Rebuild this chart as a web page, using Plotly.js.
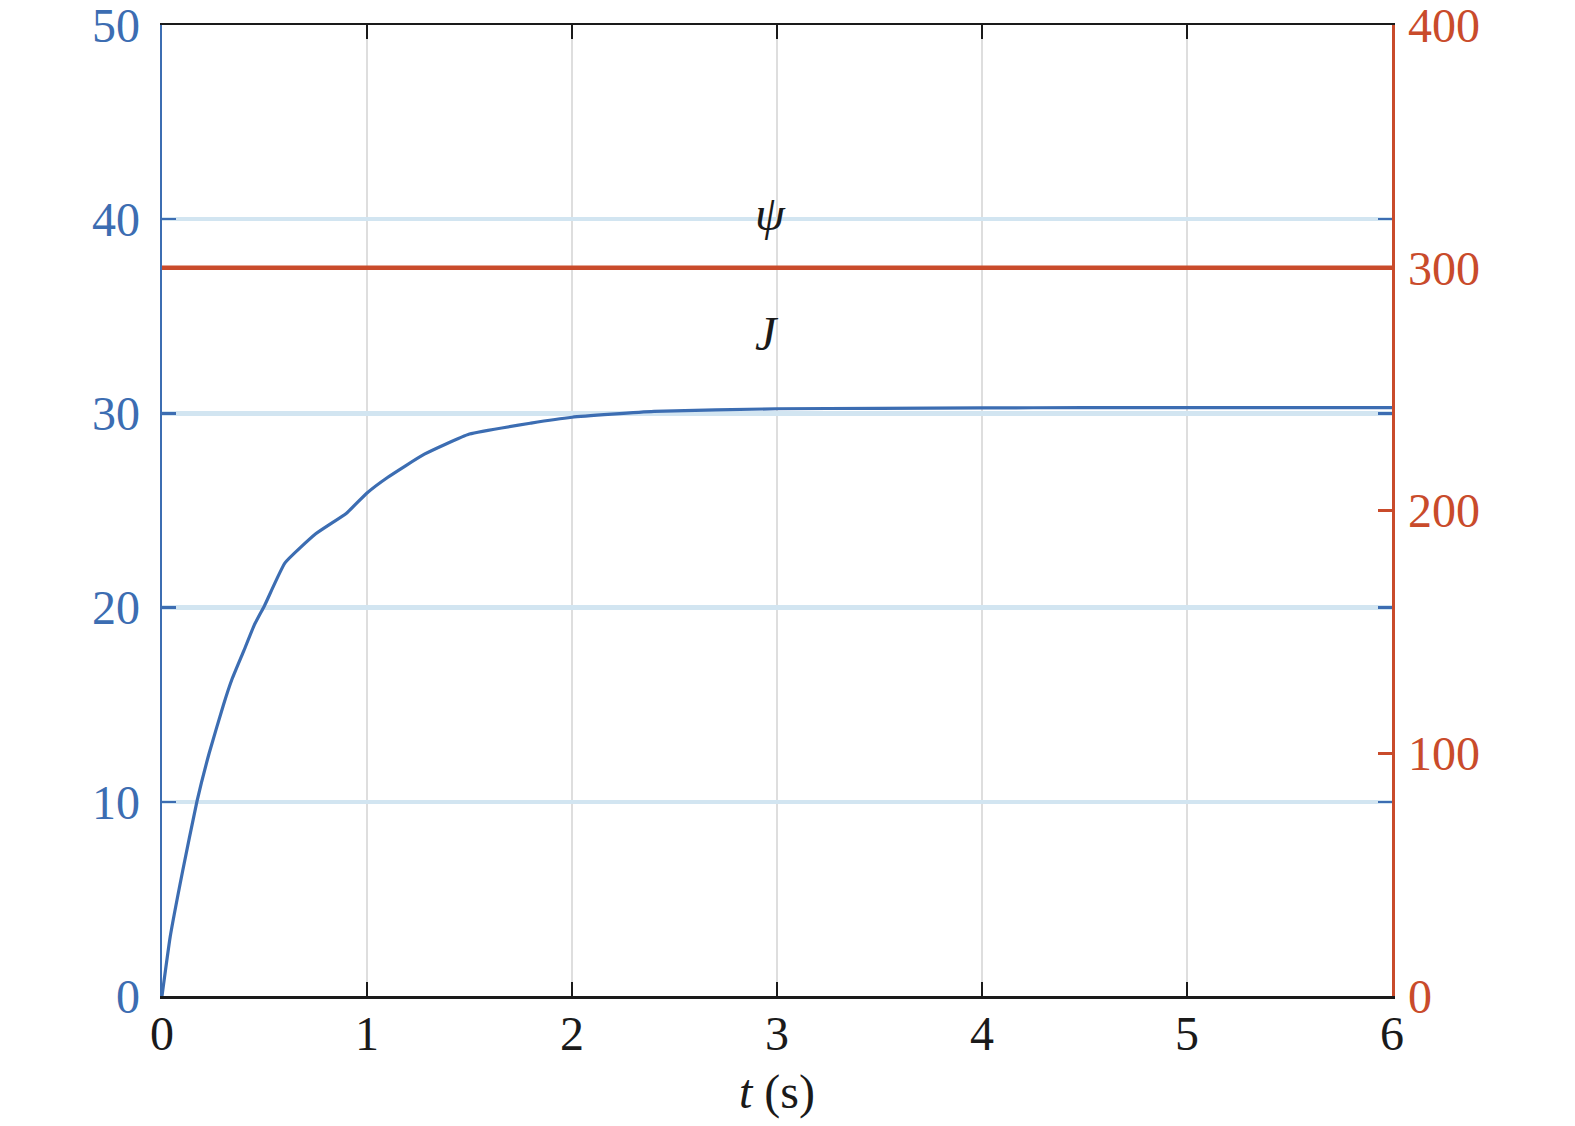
<!DOCTYPE html>
<html>
<head>
<meta charset="utf-8">
<script src="https://cdn.plot.ly/plotly-3.0.1.min.js"></script>
<style>
html,body{margin:0;padding:0;background:#fff;}
#chart{width:1575px;height:1126px;}
</style>
</head>
<body>
<div id="chart"></div>
<script>
// Time axis (s)
const tJ = [0, 0.04, 0.1, 0.17, 0.23, 0.3, 0.34, 0.4, 0.45, 0.5, 0.6, 0.75, 0.9, 1.0, 1.1, 1.28, 1.5, 1.8, 2.0, 2.4, 3.0, 3.5, 4.0, 4.5, 5.0, 5.5, 6.0];
// J values (left axis)
const valJ = [0, 3.05, 6.4, 10.0, 12.5, 15.0, 16.27, 17.8, 19.1, 20.1, 22.3, 23.8, 24.86, 25.9, 26.7, 27.9, 28.94, 29.5, 29.8, 30.1, 30.24, 30.26, 30.28, 30.3, 30.3, 30.3, 30.3];
// psi values (right axis)
const tPsi = [0, 6];
const valPsi = [300, 300];
// Tick values
const xTicks = [0, 1, 2, 3, 4, 5, 6];
const yLeftTicks = [0, 10, 20, 30, 40, 50];
const yRightTicks = [0, 100, 200, 300, 400];
// Labels
const labelPsi = {text: '<i>ψ</i>', x: 2.97, y: 40.3};
const labelJ = {text: '<i>J</i>', x: 2.95, y: 34.1};

const BLUE = '#3c6db2';
const RED = '#c94b2b';
const BLACK = '#1a1a1a';
const FONT = '"Liberation Serif", "Times New Roman", Times, serif';

const traces = [
  {x: tJ, y: valJ, type: 'scatter', mode: 'lines', line: {color: BLUE, width: 3.2, shape: 'spline', smoothing: 0.4}, xaxis: 'x', yaxis: 'y', hoverinfo: 'skip'},
  {x: tPsi, y: valPsi, type: 'scatter', mode: 'lines', line: {color: RED, width: 4.5}, xaxis: 'x', yaxis: 'y2', hoverinfo: 'skip'},
  // invisible trace to activate the mirrored blue tick axis on the right
  {x: [0], y: [0], type: 'scatter', mode: 'markers', marker: {opacity: 0}, xaxis: 'x', yaxis: 'y3', hoverinfo: 'skip', showlegend: false}
];

const layout = {
  width: 1575, height: 1126,
  margin: {l: 162, r: 183, t: 25, b: 130},
  paper_bgcolor: '#fff', plot_bgcolor: '#fff',
  showlegend: false,
  font: {family: FONT, size: 48, color: BLACK},
  xaxis: {
    range: [0, 6], tickvals: xTicks, ticktext: xTicks.map(String),
    ticks: 'inside', ticklen: 14, tickwidth: 2, tickcolor: BLACK,
    showline: true, linecolor: BLACK, linewidth: 2.5, mirror: 'ticks',
    showgrid: true, gridcolor: '#dedede', gridwidth: 1.5,
    zeroline: false,
    tickfont: {family: FONT, size: 48, color: BLACK},
    ticklabelstandoff: -6, ticklabeloverflow: 'allow',
    title: {text: '<i>t</i> (s)', font: {family: FONT, size: 48, color: BLACK}, standoff: 16}
  },
  yaxis: {
    range: [0, 50], tickvals: yLeftTicks, ticktext: yLeftTicks.map(String),
    ticks: 'inside', ticklen: 14, tickwidth: 2.5, tickcolor: BLUE,
    showline: true, linecolor: BLUE, linewidth: 2.5,
    showgrid: true, gridcolor: '#d2e5f1', gridwidth: 4.5,
    zeroline: false,
    tickfont: {family: FONT, size: 48, color: BLUE},
    ticklabelstandoff: 10, ticklabeloverflow: 'allow'
  },
  yaxis2: {
    range: [0, 400], tickvals: yRightTicks, ticktext: yRightTicks.map(String),
    overlaying: 'y', side: 'right',
    ticks: 'inside', ticklen: 14, tickwidth: 2.5, tickcolor: RED,
    showline: true, linecolor: RED, linewidth: 2.5,
    showgrid: false, zeroline: false,
    tickfont: {family: FONT, size: 48, color: RED},
    ticklabelstandoff: 4, ticklabeloverflow: 'allow'
  },
  yaxis3: {
    range: [0, 50], tickvals: yLeftTicks.slice(1, 5),
    overlaying: 'y', side: 'right',
    ticks: 'inside', ticklen: 14, tickwidth: 2.5, tickcolor: BLUE,
    showline: false, showgrid: false, zeroline: false, showticklabels: false
  },
  annotations: [
    {text: labelPsi.text, x: labelPsi.x, y: labelPsi.y, xref: 'x', yref: 'y', showarrow: false, font: {family: FONT, size: 48, color: BLACK}},
    {text: labelJ.text, x: labelJ.x, y: labelJ.y, xref: 'x', yref: 'y', showarrow: false, font: {family: FONT, size: 48, color: BLACK}}
  ]
};

Plotly.newPlot('chart', traces, layout, {staticPlot: true, displayModeBar: false});
</script>
</body>
</html>
